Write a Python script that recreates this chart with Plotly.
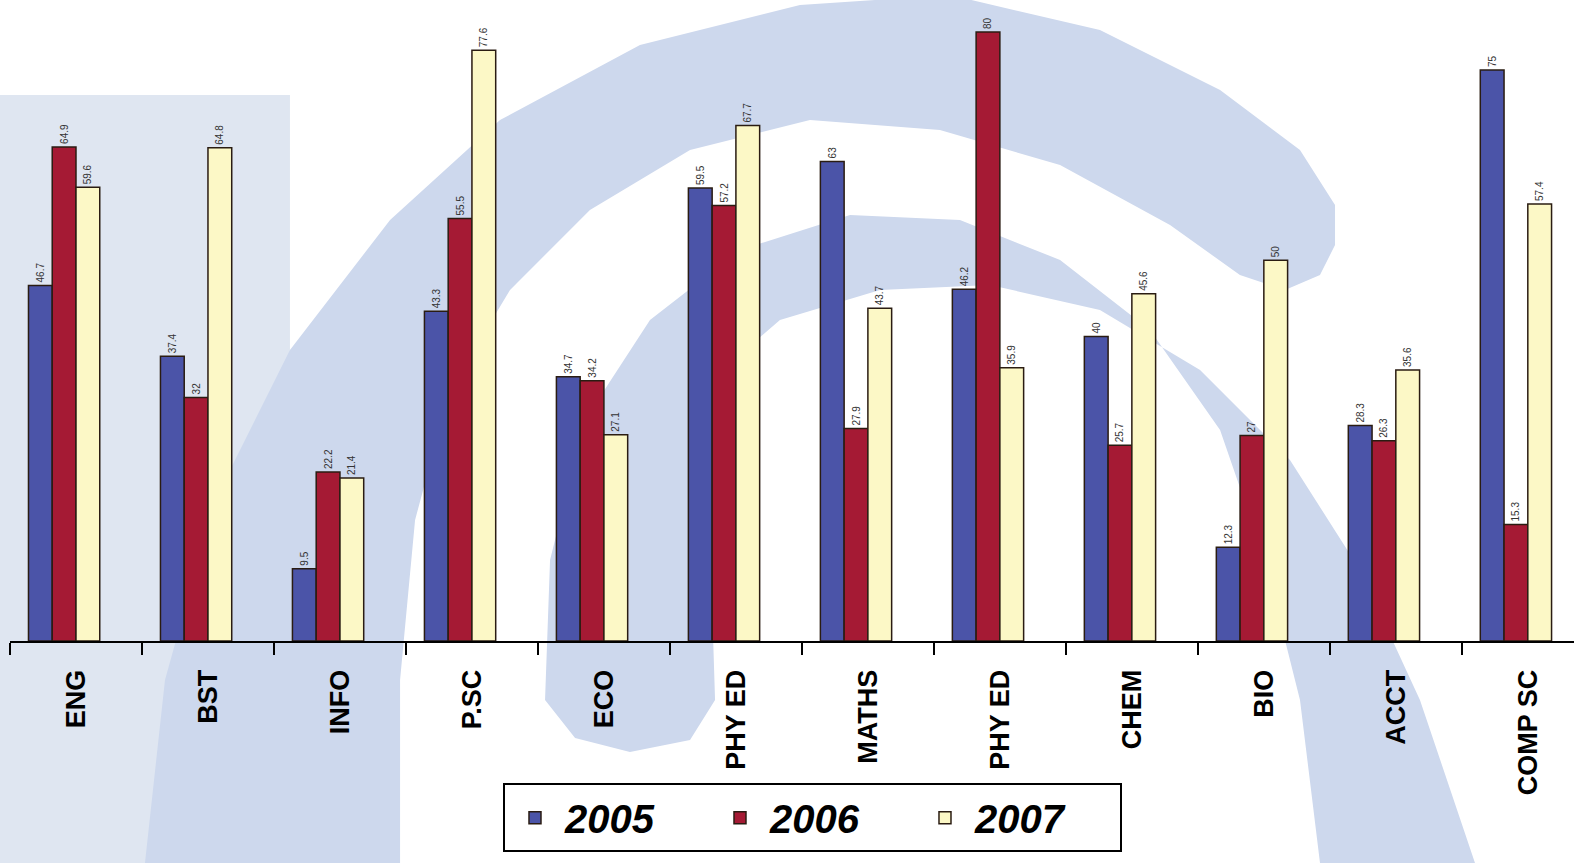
import plotly.graph_objects as go

# ---------------- data ----------------
categories = ["ENG", "BST", "INFO", "P.SC", "ECO", "PHY ED", "MATHS", "PHY ED", "CHEM", "BIO", "ACCT", "COMP SC"]
v2005 = [46.7, 37.4, 9.5, 43.3, 34.7, 59.5, 63, 46.2, 40, 12.3, 28.3, 75]
v2006 = [64.9, 32, 22.2, 55.5, 34.2, 57.2, 27.9, 80, 25.7, 27, 26.3, 15.3]
v2007 = [59.6, 64.8, 21.4, 77.6, 27.1, 67.7, 43.7, 35.9, 45.6, 50, 35.6, 57.4]
series_names = ["2005", "2006", "2007"]

# ---------------- style ----------------
W, H = 1574, 863
ML, MR, MT, MB = 10, 0, 0, 222
colors = ["#4b54a8", "#a51a34", "#fcf8c6"]
offsets = [-0.36, -0.18, 0.0]
bar_w = 0.18
FONT = "Liberation Sans, Arial, sans-serif"

xpos = list(range(len(categories)))

fig = go.Figure()
for name, vals, col, off in zip(series_names, [v2005, v2006, v2007], colors, offsets):
    fig.add_trace(go.Bar(
        x=xpos, y=vals, name=name,
        width=bar_w, offset=off,
        marker=dict(color=col, line=dict(color="#2a1c12", width=1.5)),
        texttemplate="%{y}", textposition="outside", textangle=-90,
        textfont=dict(family=FONT, size=10, color="#333333"),
        cliponaxis=False,
    ))

# ---------------- background watermark (decoration) ----------------
pw, ph = W - ML - MR, H - MT - MB


def to_paper(pts):
    return [((x - ML) / pw, (H - MB - y) / ph) for x, y in pts]


def path_of(pts):
    p = to_paper(pts)
    s = "M {:.4f},{:.4f} ".format(*p[0])
    s += " ".join("L {:.4f},{:.4f}".format(x, y) for x, y in p[1:])
    return s + " Z"


left_tint = [(0, 95), (290, 95), (290, 863), (0, 863)]
outer_band = [(145, 863), (165, 680), (215, 500), (290, 350), (390, 220), (500, 120), (640, 45),
              (800, 5), (950, -5), (1100, 30), (1220, 90), (1300, 150), (1335, 205), (1335, 245),
              (1320, 275), (1285, 290), (1240, 275), (1170, 225), (1060, 165), (940, 130),
              (810, 120), (690, 150), (590, 210), (510, 290), (450, 390), (415, 520),
              (400, 680), (400, 863)]
inner_band = [(545, 700), (550, 560), (585, 420), (650, 320), (740, 250), (850, 215), (960, 220),
              (1060, 260), (1150, 330), (1220, 430), (1265, 560), (1300, 700), (1320, 863),
              (1475, 863), (1420, 700), (1360, 570), (1290, 460), (1200, 370), (1100, 310),
              (990, 285), (880, 290), (780, 320), (710, 380), (690, 460), (712, 600), (715, 700),
              (690, 740), (630, 752), (575, 738)]

shapes = [
    dict(type="path", path=path_of(left_tint), xref="paper", yref="paper",
         fillcolor="#dfe6f1", line=dict(width=0), layer="below"),
    dict(type="path", path=path_of(outer_band), xref="paper", yref="paper",
         fillcolor="#cdd8ed", line=dict(width=0), layer="below"),
    dict(type="path", path=path_of(inner_band), xref="paper", yref="paper",
         fillcolor="#cdd8ed", line=dict(width=0), layer="below"),
]

fig.update_layout(
    width=W, height=H,
    margin=dict(l=ML, r=MR, t=MT, b=MB),
    paper_bgcolor="white", plot_bgcolor="rgba(0,0,0,0)",
    barmode="overlay",
    shapes=shapes,
    showlegend=True,
    legend=dict(
        orientation="h", x=0.5131, xanchor="center", y=-0.222, yanchor="top",
        bgcolor="white", bordercolor="black", borderwidth=2,
        font=dict(family=FONT, size=40, color="black", weight="bold", style="italic"),
        itemwidth=50, entrywidth=140, traceorder="normal",
    ),
    xaxis=dict(
        range=[-0.5, 11.35],
        tickmode="array", tickvals=xpos, ticktext=categories,
        tickangle=-90, ticks="", ticklabelstandoff=16,
        tickfont=dict(family=FONT, size=27, color="black", weight="bold"),
        showline=True, linecolor="black", linewidth=2,
        showgrid=False, zeroline=False, automargin=False,
        minor=dict(tickmode="array", tickvals=[i - 0.5 for i in range(len(categories) + 1)],
                   ticks="outside", ticklen=12, tickwidth=2, tickcolor="black", showgrid=False),
    ),
    yaxis=dict(range=[0, 84.2], visible=False, showgrid=False, zeroline=False, automargin=False),
)

fig.write_html("out.html", config={"displayModeBar": False},
               post_script="document.body.style.margin='0';")
